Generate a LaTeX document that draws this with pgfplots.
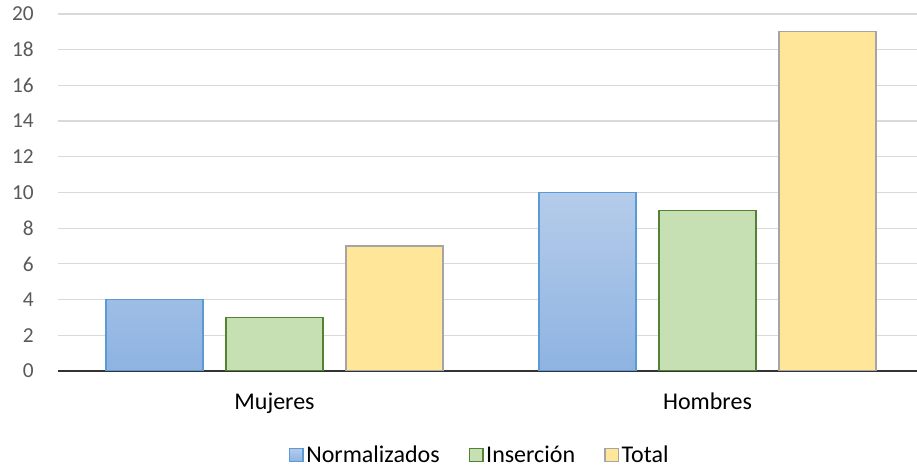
\documentclass[border=0pt]{standalone}
\usepackage{pgfplots}
\pgfplotsset{compat=1.18}
\usepackage{fontspec}
\setmainfont{Carlito}
\definecolor{tickgray}{HTML}{595959}
\definecolor{gridgray}{HTML}{D9D9D9}
\definecolor{blueA}{HTML}{B5CCEA}
\definecolor{blueB}{HTML}{8EB3E2}
\definecolor{blueL}{HTML}{5B9BD5}
\definecolor{greenF}{HTML}{C6E0B4}
\definecolor{greenL}{HTML}{548235}
\definecolor{yellowF}{HTML}{FFE699}
\definecolor{grayL}{HTML}{A5A5A5}
\begin{document}
\begin{tikzpicture}
\path[use as bounding box] (-43.5pt,-74.25pt) rectangle (644.25pt,278.25pt);
\clip (-43.5pt,-74.25pt) rectangle (644.25pt,278.25pt);
\begin{axis}[
  at={(0pt,0pt)}, anchor=south west,
  scale only axis, width=649.5pt, height=267.75pt,
  ybar, bar width=0.224,
  xmin=-0.5, xmax=1.5, ymin=0, ymax=20,
  xtick=data, xticklabels={Mujeres,Hombres},
  ytick={0,2,...,20},
  axis line style={draw=none},
  major tick length=0pt,
  ymajorgrids, grid style={gridgray, line width=0.9pt},
  extra y ticks={0}, extra y tick labels={},
  extra y tick style={grid style={black!80, line width=1pt}},
  /pgf/number format/assume math mode=true,
  yticklabel style={font=\fontsize{16}{19}\selectfont, text=tickgray, anchor=east, inner sep=0pt, xshift=-18pt},
  xticklabel style={font=\fontsize{18}{21}\selectfont, text=black, anchor=north, inner sep=0pt, yshift=-16pt},
  legend style={draw=none, font=\fontsize{18}{21}\selectfont, legend columns=-1,
    at={(0.4875,-0.235)}, anchor=center,
    /tikz/every even column/.append style={column sep=20pt}},
  legend image code/.code={\draw[#1] (0pt,-5pt) rectangle (10pt,5pt);},
]
\addplot[bar shift=-0.277, draw=blueL, line width=0.9pt, top color=blueA, bottom color=blueB] coordinates {(0,4) (1,10)};
\addplot[bar shift=0, draw=greenL, line width=0.9pt, fill=greenF] coordinates {(0,3) (1,9)};
\addplot[bar shift=0.277, draw=grayL, line width=0.9pt, fill=yellowF] coordinates {(0,7) (1,19)};
\legend{Normalizados,Inserción,Total}
\end{axis}
\end{tikzpicture}
\end{document}
